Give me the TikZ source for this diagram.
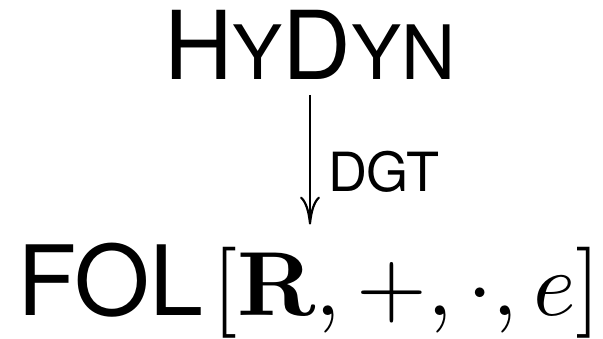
\documentclass[tikz,border=0pt]{standalone}
\usepackage{graphicx}
\usepackage[no-math]{fontspec}
\setmainfont{TeX Gyre Heros}
\usetikzlibrary{arrows.meta}
\begin{document}
\begin{tikzpicture}[x=1pt,y=1pt,
  lbl/.style={inner sep=0pt, outer sep=0pt},
  conn/.style={line width=2.8pt, -{To[length=28pt,width=20pt,line width=2.2pt]}}]
\useasboundingbox (0,0) rectangle (603,338);
\node[lbl, anchor=base] (top) at (310,258)
  {\scalebox{9.5}{\fontsize{10}{12}\selectfont H\fontsize{7.9}{9}\selectfont Y\fontsize{10}{12}\selectfont D\fontsize{7.9}{9}\selectfont YN}};
\node[lbl, anchor=base west] (bot) at (17,22)
  {\scalebox{9.7}{\fontsize{10}{12}\selectfont FOL}\hspace{8.5pt}\scalebox{9.1}{\fontsize{10}{12}\selectfont$[\mathbf{R},+,\cdot,e]$}};
\draw[conn, shorten <=15pt, shorten >=19pt] (top.south) -- (top.south |- bot.north);
\node[lbl, anchor=base west] (dgt) at (328,146) {\scalebox{5.4}{\fontsize{10}{12}\selectfont DGT}};
\end{tikzpicture}
\end{document}
